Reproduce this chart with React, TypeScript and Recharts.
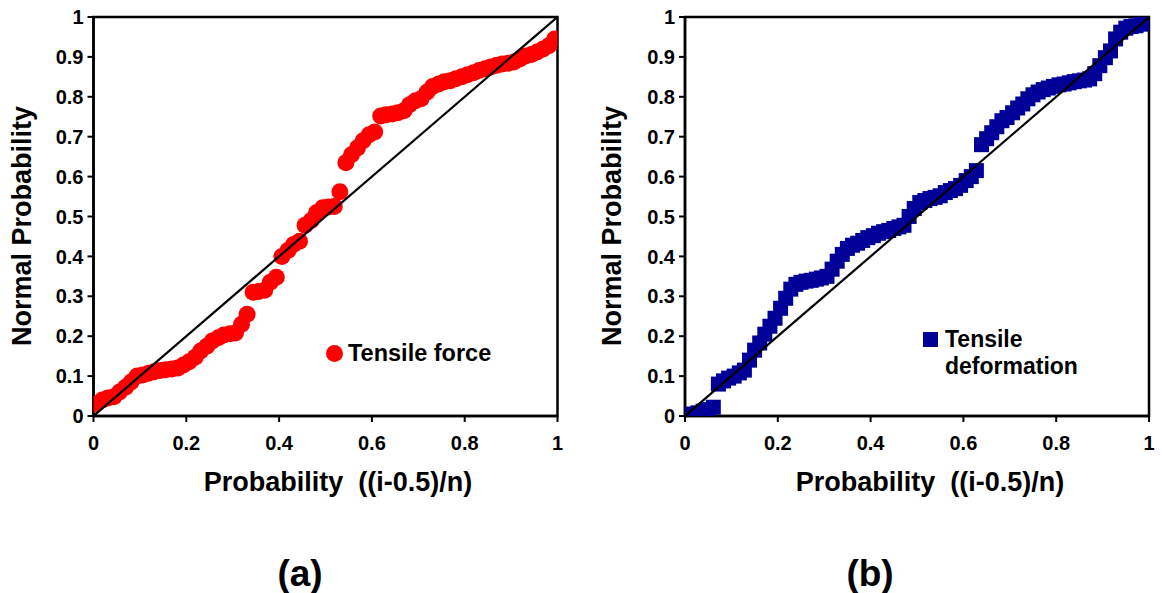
import { Scatter, ScatterChart, XAxis, YAxis, ReferenceArea } from "recharts";

// probability plot data
const forceX = [
  0.006, 0.019, 0.031, 0.044, 0.056, 0.069, 0.081, 0.094, 0.106, 0.119,
  0.131, 0.144, 0.156, 0.169, 0.181, 0.194, 0.206, 0.219, 0.231, 0.244,
  0.256, 0.269, 0.281, 0.294, 0.306, 0.319, 0.331, 0.344, 0.356, 0.369,
  0.381, 0.394, 0.406, 0.419, 0.431, 0.444, 0.456, 0.469, 0.481, 0.494,
  0.506, 0.519, 0.531, 0.544, 0.556, 0.569, 0.581, 0.594, 0.606, 0.619,
  0.631, 0.644, 0.656, 0.669, 0.681, 0.694, 0.706, 0.719, 0.731, 0.744,
  0.756, 0.769, 0.781, 0.794, 0.806, 0.819, 0.831, 0.844, 0.856, 0.869,
  0.881, 0.894, 0.906, 0.919, 0.931, 0.944, 0.956, 0.969, 0.981, 0.994,
];
const forceY = [
  0.030, 0.040, 0.045, 0.048, 0.060, 0.072, 0.085, 0.100, 0.103, 0.107,
  0.111, 0.114, 0.116, 0.118, 0.120, 0.128, 0.136, 0.147, 0.163, 0.175,
  0.188, 0.196, 0.203, 0.206, 0.208, 0.230, 0.255, 0.310, 0.312, 0.315,
  0.335, 0.348, 0.400, 0.415, 0.430, 0.438, 0.478, 0.490, 0.510, 0.522,
  0.524, 0.525, 0.562, 0.635, 0.655, 0.672, 0.690, 0.705, 0.712, 0.752,
  0.755, 0.757, 0.760, 0.765, 0.780, 0.790, 0.795, 0.812, 0.826, 0.832,
  0.838, 0.840, 0.845, 0.850, 0.855, 0.860, 0.866, 0.870, 0.875, 0.879,
  0.882, 0.884, 0.887, 0.895, 0.902, 0.906, 0.912, 0.920, 0.928, 0.945,
];

const deformX = [
  0.006, 0.017, 0.028, 0.039, 0.050, 0.061, 0.072, 0.083, 0.094, 0.106,
  0.117, 0.128, 0.139, 0.150, 0.161, 0.172, 0.183, 0.194, 0.206, 0.217,
  0.228, 0.239, 0.250, 0.261, 0.272, 0.283, 0.294, 0.306, 0.317, 0.328,
  0.339, 0.350, 0.361, 0.372, 0.383, 0.394, 0.406, 0.417, 0.428, 0.439,
  0.450, 0.461, 0.472, 0.483, 0.494, 0.506, 0.517, 0.528, 0.539, 0.550,
  0.561, 0.572, 0.583, 0.594, 0.606, 0.617, 0.628, 0.639, 0.650, 0.661,
  0.672, 0.683, 0.694, 0.706, 0.717, 0.728, 0.739, 0.750, 0.761, 0.772,
  0.783, 0.794, 0.806, 0.817, 0.828, 0.839, 0.850, 0.861, 0.872, 0.883,
  0.894, 0.906, 0.917, 0.928, 0.939, 0.950, 0.961, 0.972, 0.983, 0.994,
];
const deformY = [
  0.002, 0.005, 0.008, 0.012, 0.016, 0.022, 0.080, 0.088, 0.095, 0.100,
  0.108, 0.115, 0.140, 0.165, 0.183, 0.205, 0.225, 0.245, 0.270, 0.295,
  0.318, 0.330, 0.335, 0.338, 0.340, 0.343, 0.346, 0.350, 0.368, 0.388,
  0.405, 0.420, 0.428, 0.433, 0.440, 0.447, 0.452, 0.458, 0.462, 0.465,
  0.470, 0.474, 0.478, 0.500, 0.520, 0.535, 0.540, 0.545, 0.548, 0.552,
  0.560, 0.565, 0.570, 0.578, 0.590, 0.600, 0.615, 0.680, 0.695, 0.710,
  0.725, 0.740, 0.748, 0.760, 0.772, 0.782, 0.795, 0.805, 0.812, 0.818,
  0.822, 0.826, 0.830, 0.832, 0.835, 0.838, 0.840, 0.842, 0.845, 0.858,
  0.878, 0.898, 0.915, 0.945, 0.962, 0.972, 0.976, 0.978, 0.982, 0.985,
];

const xTicks = [0, 0.2, 0.4, 0.6, 0.8, 1];
const yTicks = [0, 0.1, 0.2, 0.3, 0.4, 0.5, 0.6, 0.7, 0.8, 0.9, 1];
const diagonal = [{ x: 0, y: 0 }, { x: 1, y: 1 }];

const font = "'Liberation Sans', Arial, Helvetica, sans-serif";
const tickStyle = { fontSize: 20, fontWeight: 700, fill: "#000", fontFamily: font };

const zip = (xs: number[], ys: number[]) => xs.map((x, i) => ({ x, y: ys[i] }));

const dot = (p: any) => <circle cx={p.cx} cy={p.cy} r={8.5} fill="#ff0000" />;
const square = (p: any) => <rect x={p.cx - 7.5} y={p.cy - 7.5} width={15} height={15} fill="#000099" />;
const nothing = () => <g />;

function ProbPlot({ data, shape, marginLeft, width }: any) {
  return (
    <ScatterChart width={width} height={460} margin={{ top: 17, right: width - marginLeft - 60 - 464, left: marginLeft, bottom: 14 }}>
      <XAxis
        type="number"
        dataKey="x"
        domain={[0, 1]}
        ticks={xTicks}
        height={30}
        tick={tickStyle}
        tickSize={6}
        tickMargin={14}
        axisLine={{ stroke: "#000", strokeWidth: 2.5 }}
        tickLine={{ stroke: "#000", strokeWidth: 2 }}
        allowDataOverflow
      />
      <YAxis
        type="number"
        dataKey="y"
        domain={[0, 1]}
        ticks={yTicks}
        width={60}
        tick={tickStyle}
        tickSize={6}
        tickMargin={4}
        axisLine={{ stroke: "#000", strokeWidth: 2.5 }}
        tickLine={{ stroke: "#000", strokeWidth: 2 }}
        allowDataOverflow
      />
      <ReferenceArea x1={0} x2={1} y1={0} y2={1} fill="none" stroke="#000" strokeWidth={2.5} fillOpacity={0} />
      <Scatter data={data} shape={shape} isAnimationActive={false} />
      <Scatter data={diagonal} shape={nothing} line={{ stroke: "#000", strokeWidth: 2.2 }} isAnimationActive={false} />
    </ScatterChart>
  );
}

const abs = (left: number, top: number, extra: any = {}) => ({
  position: "absolute" as const,
  left,
  top,
  fontFamily: font,
  fontWeight: 700,
  color: "#000",
  whiteSpace: "nowrap" as const,
  ...extra,
});

export default function App() {
  const forceData = zip(forceX, forceY);
  const deformData = zip(deformX, deformY);
  return (
    <div style={{ position: "absolute", left: 0, top: 0, width: 1162, height: 593, background: "#fff" }}>
      <div style={{ position: "absolute", left: 0, top: 0 }}>
        <ProbPlot data={forceData} shape={dot} marginLeft={33.5} width={580} />
      </div>
      <div style={{ position: "absolute", left: 590, top: 0 }}>
        <ProbPlot data={deformData} shape={square} marginLeft={35} width={572} />
      </div>

      {/* axis titles */}
      <div style={abs(22, 226, { fontSize: 27, lineHeight: 1, transform: "translate(-50%, -50%) rotate(-90deg)" })}>Normal Probability</div>
      <div style={abs(612, 226, { fontSize: 27, lineHeight: 1, transform: "translate(-50%, -50%) rotate(-90deg)" })}>Normal Probability</div>
      <div style={abs(338, 482, { fontSize: 27, lineHeight: 1, transform: "translate(-50%, -50%)" })}>Probability&nbsp;&nbsp;((i-0.5)/n)</div>
      <div style={abs(930, 482, { fontSize: 27, lineHeight: 1, transform: "translate(-50%, -50%)" })}>Probability&nbsp;&nbsp;((i-0.5)/n)</div>

      {/* panel labels */}
      <div style={abs(300, 573, { fontSize: 37, lineHeight: 1, transform: "translate(-50%, -50%)" })}>(a)</div>
      <div style={abs(870, 573, { fontSize: 37, lineHeight: 1, transform: "translate(-50%, -50%)" })}>(b)</div>

      {/* legends */}
      <div style={abs(326, 345, { width: 17, height: 17, borderRadius: 9, background: "#ff0000" })} />
      <div style={abs(348, 354, { fontSize: 23.5, lineHeight: 1, transform: "translateY(-50%)" })}>Tensile force</div>
      <div style={abs(923, 332, { width: 15, height: 15, background: "#000099" })} />
      <div style={abs(945, 326, { fontSize: 23, lineHeight: "27px" })}>
        Tensile
        <br />
        deformation
      </div>
    </div>
  );
}
